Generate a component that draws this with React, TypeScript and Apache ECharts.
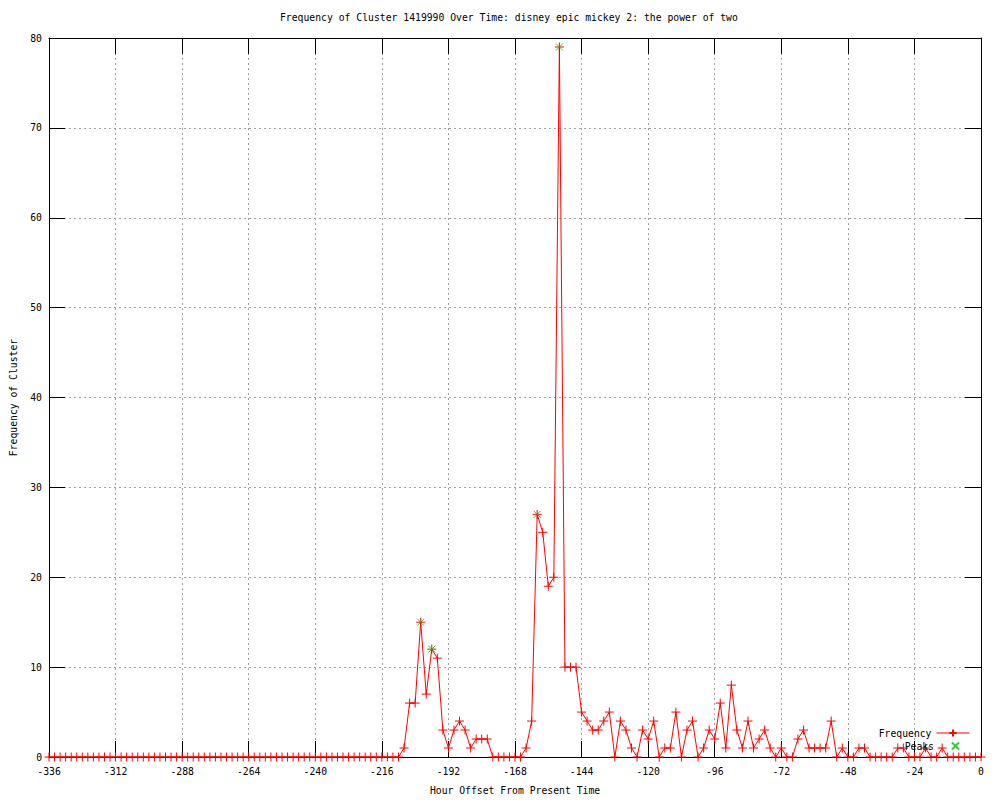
import React, { useEffect, useRef } from "react";
import * as echarts from "echarts";

const TITLE = "Frequency of Cluster 1419990 Over Time: disney epic mickey 2: the power of two";
const X_NAME = "Hour Offset From Present Time";
const Y_NAME = "Frequency of Cluster";

const HOURS = [
  -336, -334, -332, -330, -328, -326, -324, -322, -320, -318,
  -316, -314, -312, -310, -308, -306, -304, -302, -300, -298,
  -296, -294, -292, -290, -288, -286, -284, -282, -280, -278,
  -276, -274, -272, -270, -268, -266, -264, -262, -260, -258,
  -256, -254, -252, -250, -248, -246, -244, -242, -240, -238,
  -236, -234, -232, -230, -228, -226, -224, -222, -220, -218,
  -216, -214, -212, -210,
  -208, -206, -204, -202, -200, -198, -196, -194, -192, -190,
  -188, -186, -184, -182, -180, -178, -176, -174, -172, -170,
  -168, -166, -164, -162, -160, -158, -156, -154, -152, -150,
  -148, -146, -144, -142, -140, -138, -136, -134, -132, -130,
  -128, -126, -124, -122, -120, -118, -116, -114, -112, -110,
  -108, -106, -104, -102, -100, -98, -96, -94, -92, -90,
  -88, -86, -84, -82, -80, -78, -76, -74, -72, -70,
  -68, -66, -64, -62, -60, -58, -56, -54, -52, -50,
  -48, -46, -44, -42, -40, -38, -36, -34, -32, -30,
  -28, -26, -24, -22, -20, -18, -16, -14, -12, -10,
  -8, -6, -4, -2, 0,
];

const FREQUENCY = [
  0, 0, 0, 0, 0, 0, 0, 0, 0, 0,
  0, 0, 0, 0, 0, 0, 0, 0, 0, 0,
  0, 0, 0, 0, 0, 0, 0, 0, 0, 0,
  0, 0, 0, 0, 0, 0, 0, 0, 0, 0,
  0, 0, 0, 0, 0, 0, 0, 0, 0, 0,
  0, 0, 0, 0, 0, 0, 0, 0, 0, 0,
  0, 0, 0, 0,
  1, 6, 6, 15, 7, 12, 11, 3, 1, 3,
  4, 3, 1, 2, 2, 2, 0, 0, 0, 0,
  0, 0, 1, 4, 27, 25, 19, 20, 79, 10,
  10, 10, 5, 4, 3, 3, 4, 5, 0, 4,
  3, 1, 0, 3, 2, 4, 0, 1, 1, 5,
  0, 3, 4, 0, 1, 3, 2, 6, 1, 8,
  3, 1, 4, 1, 2, 3, 1, 0, 1, 0,
  0, 2, 3, 1, 1, 1, 1, 4, 0, 1,
  0, 0, 1, 1, 0, 0, 0, 0, 0, 1,
  1, 0, 0, 0, 1, 0, 0, 1, 0, 0,
  0, 0, 0, 0, 0,
];

const PEAK_HOURS = [-202, -198, -160, -152];
const PEAK_VALUES = [15, 12, 27, 79];

const X_MIN = -336;
const X_MAX = 0;
const X_STEP = 24;
const Y_MIN = 0;
const Y_MAX = 80;
const Y_STEP = 10;

const FONT = "DejaVu Sans Mono";
const FS = 9.75;
const RED = "#ff0000";
const GREEN = "#00c000";
const PLUS = "path://M0,5L10,5M5,0L5,10";
const CROSS = "path://M0,0L10,10M0,10L10,0";

export default function App() {
  const ref = useRef<HTMLDivElement>(null);

  useEffect(() => {
    if (!ref.current) return;
    const chart = echarts.init(ref.current, undefined, { renderer: "svg", width: 1000, height: 800 });

    const textStyle = { fontFamily: FONT, fontSize: FS, color: "#000000" };
    const tickStyle = { show: true, inside: true, length: 16, lineStyle: { color: "#000000", width: 1 } };
    const axisLine = { show: true, onZero: false, lineStyle: { color: "#000000", width: 1 } };
    const gridLine = { show: true, lineStyle: { color: "#a0a0a0", width: 1, type: [2, 3] } };

    const option: any = {
      animation: false,
      backgroundColor: "#ffffff",
      textStyle: { fontFamily: FONT },
      title: {
        text: TITLE,
        left: 280,
        top: 12,
        padding: 0,
        textStyle: { ...textStyle, fontWeight: "normal" },
      },
      legend: [
        {
          data: ["Frequency"],
          orient: "vertical",
          align: "right",
          right: 30,
          top: 728,
          padding: 0,
          itemWidth: 33,
          itemHeight: 9,
          textStyle,
          lineStyle: { width: 1, color: RED },
          selectedMode: false,
        },
        {
          data: ["Peaks"],
          orient: "vertical",
          align: "right",
          right: 40,
          top: 741,
          padding: 0,
          itemWidth: 33,
          itemHeight: 7,
          textStyle,
          selectedMode: false,
        },
      ],
      grid: { left: 49, top: 38, width: 932, height: 722, containLabel: false },
      xAxis: [
        {
          type: "value",
          position: "bottom",
          min: X_MIN,
          max: X_MAX,
          interval: X_STEP,
          name: X_NAME,
          nameLocation: "middle",
          nameGap: 28,
          nameTextStyle: textStyle,
          axisLine,
          axisTick: tickStyle,
          axisLabel: { ...textStyle, margin: 9 },
          splitLine: gridLine,
        },
        {
          type: "value",
          position: "top",
          min: X_MIN,
          max: X_MAX,
          interval: X_STEP,
          axisLine,
          axisTick: tickStyle,
          axisLabel: { show: false },
          splitLine: { show: false },
        },
      ],
      yAxis: [
        {
          type: "value",
          position: "left",
          min: Y_MIN,
          max: Y_MAX,
          interval: Y_STEP,
          name: Y_NAME,
          nameLocation: "middle",
          nameGap: 31,
          nameTextStyle: textStyle,
          axisLine,
          axisTick: tickStyle,
          axisLabel: { ...textStyle, margin: 7 },
          splitLine: gridLine,
        },
        {
          type: "value",
          position: "right",
          min: Y_MIN,
          max: Y_MAX,
          interval: Y_STEP,
          axisLine,
          axisTick: tickStyle,
          axisLabel: { show: false },
          splitLine: { show: false },
        },
      ],
      series: [
        {
          name: "Frequency",
          type: "line",
          xAxisIndex: 0,
          yAxisIndex: 0,
          data: HOURS.map((h, i) => [h, FREQUENCY[i]]),
          symbol: PLUS,
          symbolSize: 9,
          showSymbol: true,
          showAllSymbol: true,
          lineStyle: { color: RED, width: 1 },
          itemStyle: { color: RED, borderColor: RED, borderWidth: 1 },
          emphasis: { disabled: true },
          z: 3,
        },
        {
          name: "Peaks",
          type: "scatter",
          xAxisIndex: 0,
          yAxisIndex: 0,
          data: PEAK_HOURS.map((h, i) => [h, PEAK_VALUES[i]]),
          symbol: CROSS,
          symbolSize: 7,
          symbolKeepAspect: true,
          itemStyle: { color: GREEN, borderColor: GREEN, borderWidth: 1 },
          emphasis: { disabled: true },
          z: 4,
        },
      ],
    };

    chart.setOption(option);
    return () => chart.dispose();
  }, []);

  return (
    <div
      ref={ref}
      style={{ position: "fixed", left: 0, top: 0, width: 1000, height: 800, background: "#ffffff" }}
    />
  );
}
